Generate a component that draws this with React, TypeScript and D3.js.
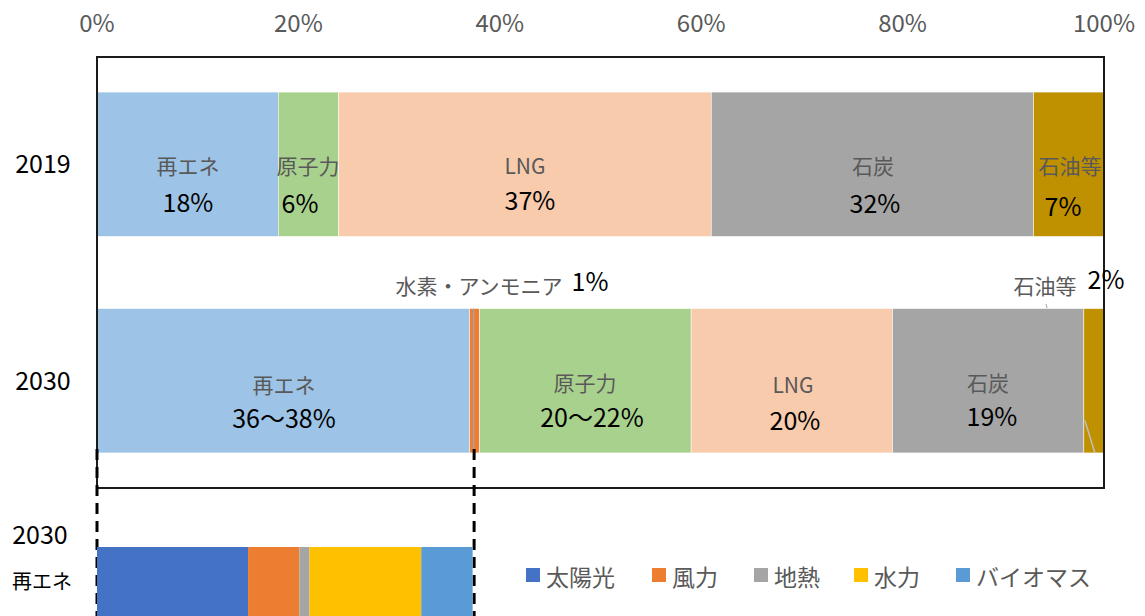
import React from "react";
import * as d3 from "d3";

const years = ["2019", "2030"];
const sources = ["再エネ", "水素・アンモニア", "原子力", "LNG", "石炭", "石油等"];
const values2019 = [18, 0, 6, 37, 32, 7];
const values2030 = [37, 1, 21, 20, 19, 2];
const valueLabels2019 = ["18%", "", "6%", "37%", "32%", "7%"];
const valueLabels2030 = ["36～38%", "1%", "20～22%", "20%", "19%", "2%"];
const sourceColors = ["#9DC3E6", "#ED7D31", "#A9D18E", "#F8CBAD", "#A5A5A5", "#BF9000"];

const reCategories = ["太陽光", "風力", "地熱", "水力", "バイオマス"];
const reValues = [15, 5.1, 1, 11.1, 5.1];
const reColors = ["#4472C4", "#ED7D31", "#A5A5A5", "#FFC000", "#5B9BD5"];

const ticks = [0, 20, 40, 60, 80, 100];

const W = 1145, H = 616;
const FONT = "'Noto Sans CJK JP', 'Noto Sans', sans-serif";

function stackPos(vals: number[]) {
  let acc = 0;
  return vals.map((v) => {
    const s = acc;
    acc += v;
    return [s, acc];
  });
}

export default function App() {
  const x = d3.scaleLinear().domain([0, 100]).range([97, 1104]);
  const y = d3.scaleBand().domain(years).range([57, 488]).paddingInner(1 / 3).paddingOuter(0.162);
  const bw = y.bandwidth();
  const dataByYear = [values2019, values2030];
  const y19 = y("2019")!;
  const y30 = y("2030")!;

  const reStack = stackPos(reValues);
  const reEnd = reStack[reStack.length - 1][1];
  const yBottomTop = 547;

  const name19X = [188, 0, 308, 525, 873, 1070];
  const val19X = [188, 0, 300, 530, 875, 1063];
  const val19Y = [120, 0, 121, 118, 121, 124];
  const name30X = [284, 0, 585, 793, 988, 0];
  const val30X = [284, 0, 592, 795, 992, 0];
  const val30Y = [119, 0, 118, 121, 117, 0];
  const name30Y = [75, 0, 73, 75, 73, 0];

  const legendX = [526, 652, 754, 854, 956];

  return (
    <svg width={W} height={H} style={{ position: "absolute", left: 0, top: 0, fontFamily: FONT }}>
      <rect x={0} y={0} width={W} height={H} fill="#fff" />
      {ticks.map((t) => (
        <text key={t} x={x(t)} y={32} textAnchor="middle" fontSize={24} fill="#595959">
          {t}%
        </text>
      ))}
      {dataByYear.map((vals, yi) => {
        const pos = stackPos(vals);
        const y0 = y(years[yi])!;
        return (
          <g key={yi}>
            {vals.map((v, i) =>
              v > 0 ? (
                <rect key={i} x={x(pos[i][0])} y={y0} width={x(pos[i][1]) - x(pos[i][0])} height={bw} fill={sourceColors[i]} stroke="#fff" strokeWidth={0.5} />
              ) : null
            )}
          </g>
        );
      })}
      {/* leader lines */}
      <line x1={x(37.4)} x2={x(37.4)} y1={y30} y2={y30 + bw} stroke="#A5A5A5" strokeWidth={1.5} />
      <line x1={1046} x2={1047} y1={304} y2={308} stroke="#A5A5A5" strokeWidth={1} />
      <line x1={x(98.1)} x2={x(99.1)} y1={y30 + 112} y2={y30 + bw} stroke="#BFBFBF" strokeWidth={1.5} />
      {/* frame */}
      <rect x={x(0)} y={57} width={x(100) - x(0)} height={488 - 57} fill="none" stroke="#1a1a1a" strokeWidth={2} />
      {years.map((yr) => (
        <text key={yr} x={43} y={y(yr)! + bw / 2 + 9} textAnchor="middle" fontSize={25} fill="#000">
          {yr}
        </text>
      ))}
      {sources.map((s, i) =>
        values2019[i] > 0 ? (
          <g key={"a" + i}>
            <text x={name19X[i]} y={y19 + 73} dominantBaseline="central" textAnchor="middle" fontSize={21} fill="#595959">{s}</text>
            <text x={val19X[i]} y={y19 + val19Y[i]} textAnchor="middle" fontSize={25} fill="#000">{valueLabels2019[i]}</text>
          </g>
        ) : null
      )}
      {sources.map((s, i) =>
        name30X[i] > 0 ? (
          <g key={"b" + i}>
            <text x={name30X[i]} y={y30 + name30Y[i]} dominantBaseline="central" textAnchor="middle" fontSize={21} fill="#595959">{s}</text>
            <text x={val30X[i]} y={y30 + val30Y[i]} textAnchor="middle" fontSize={25} fill="#000">{valueLabels2030[i]}</text>
          </g>
        ) : null
      )}
      <text x={479} y={285} dominantBaseline="central" textAnchor="middle" fontSize={21} fill="#595959">{sources[1]}</text>
      <text x={590} y={291} textAnchor="middle" fontSize={25} fill="#000">{valueLabels2030[1]}</text>
      <text x={1045} y={285} dominantBaseline="central" textAnchor="middle" fontSize={21} fill="#595959">{sources[5]}</text>
      <text x={1106} y={289} textAnchor="middle" fontSize={25} fill="#000">{valueLabels2030[5]}</text>
      {/* dashed connectors */}
      <line x1={x(0)} x2={x(0)} y1={y30 + bw - 4} y2={H} stroke="#000" strokeWidth={3} strokeDasharray="11,7" />
      <line x1={x(reEnd) + 1.5} x2={x(reEnd) + 1.5} y1={y30 + bw - 4} y2={H} stroke="#000" strokeWidth={3} strokeDasharray="11,7" />
      {/* breakdown bar */}
      {reValues.map((v, i) => (
        <rect key={"r" + i} x={x(reStack[i][0])} y={yBottomTop} width={x(reStack[i][1]) - x(reStack[i][0])} height={H - yBottomTop} fill={reColors[i]} />
      ))}
      <text x={40} y={544} textAnchor="middle" fontSize={25} fill="#000">2030</text>
      <text x={42} y={580} dominantBaseline="central" textAnchor="middle" fontSize={20} fill="#000">再エネ</text>
      {reCategories.map((c, i) => (
        <g key={c}>
          <rect x={legendX[i]} y={568} width={14} height={14} fill={reColors[i]} />
          <text x={legendX[i] + 20} y={576} dominantBaseline="central" fontSize={23} fill="#595959">{c}</text>
        </g>
      ))}
    </svg>
  );
}
